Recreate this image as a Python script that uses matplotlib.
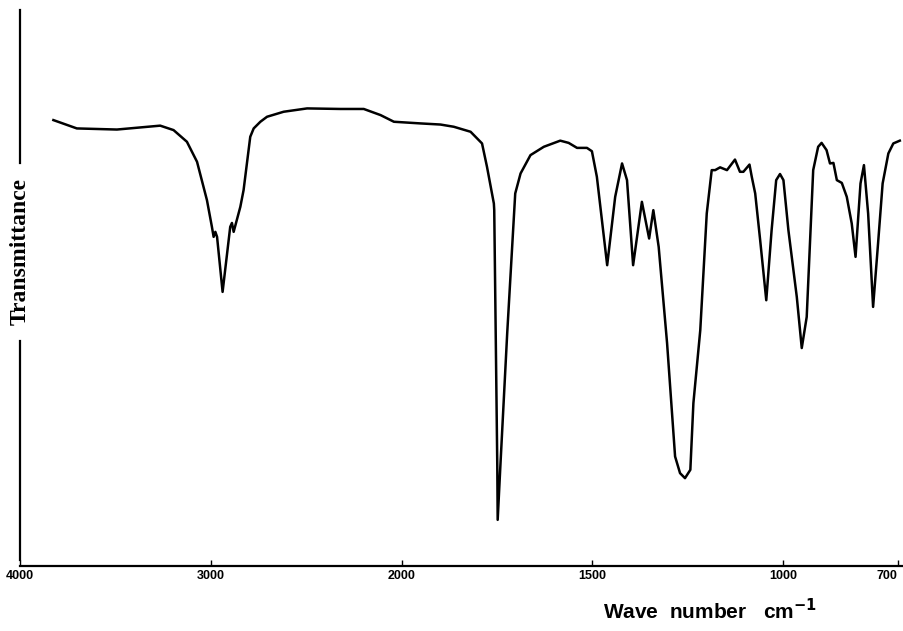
import numpy as np
import matplotlib
matplotlib.use("Agg")
import matplotlib.pyplot as plt

# wave numbers (cm-1) and transmittance (arbitrary %)
wavenumber = [3825, 3702, 3492, 3265, 3195, 3125, 3072, 3020, 2994, 2985,
              2976, 2967, 2938, 2898, 2889, 2880, 2845, 2828, 2793, 2775,
              2740, 2705, 2618, 2495, 2320, 2198, 2110, 2040,
              1950, 1898, 1863, 1819, 1789, 1776, 1758, 1757, 1749, 1748,
              1741, 1723, 1702, 1688, 1662, 1627, 1584, 1562, 1540, 1514,
              1501, 1488, 1461, 1440, 1422, 1409, 1393, 1370, 1351, 1340,
              1326, 1304, 1283, 1270, 1257, 1243, 1235, 1217, 1200, 1187,
              1178, 1165, 1147, 1126, 1113, 1104, 1088, 1082, 1073, 1060,
              1044, 1030, 1018, 1008, 999, 986, 964, 951, 938, 921,
              908, 899, 886, 877, 868, 859, 846, 833, 820, 810,
              797, 788, 777, 764, 751, 739, 724, 711, 694]
transmittance = [80.2, 78.7, 78.5, 79.2, 78.4, 76.3, 72.7, 65.8, 61.0, 59.2,
                 60.1, 59.2, 49.3, 61.0, 61.7, 60.1, 64.6, 67.6, 77.2, 78.7,
                 79.9, 80.8, 81.7, 82.3, 82.2, 82.2, 81.1, 79.9,
                 79.6, 79.4, 79.0, 78.1, 76.0, 71.8, 65.2, 64.0, 17.9, 8.3,
                 17.9, 41.9, 67.0, 70.6, 73.9, 75.4, 76.5, 76.1, 75.2, 75.2,
                 74.6, 70.0, 54.1, 66.4, 72.4, 69.4, 54.1, 65.5, 58.9, 64.0,
                 57.4, 40.1, 19.7, 16.7, 15.8, 17.3, 29.3, 42.4, 63.4, 71.2,
                 71.2, 71.7, 71.2, 73.1, 70.9, 70.9, 72.2, 70.0, 67.0, 58.6,
                 47.8, 60.4, 69.4, 70.5, 69.4, 60.4, 48.4, 39.2, 44.8, 71.2,
                 75.4, 76.1, 74.8, 72.4, 72.5, 69.4, 68.9, 66.4, 61.6, 55.6,
                 68.8, 72.1, 63.4, 46.6, 58.0, 68.8, 74.2, 76.0, 76.5]

ticks = [4000, 3000, 2000, 1500, 1000, 700]
tick_labels = ["4000", "3000", "2000", "1500", "1000", "700"]


# IR chart paper: scale doubles below 2000 cm-1
def fwd(w):
    w = np.asarray(w, dtype=float)
    return np.where(w >= 2000, w / 2 + 1000, w)


def inv(v):
    v = np.asarray(v, dtype=float)
    return np.where(v >= 2000, (v - 1000) * 2, v)


fig = plt.figure(figsize=(9.04, 6.31), dpi=100)
ax = fig.add_axes([20 / 904, 65 / 631, 884 / 904, 556 / 631])
ax.set_xscale('function', functions=(fwd, inv))
ax.plot(wavenumber, transmittance, color='black', lw=1.8, solid_joinstyle='round')
ax.set_xlim(4000, 683)
ax.set_ylim(0, 100)

for s in ['top', 'right', 'left']:
    ax.spines[s].set_visible(False)
ax.spines['bottom'].set_linewidth(1.6)
ax.set_yticks([])
ax.set_xticks(ticks)
ax.set_xticklabels(tick_labels)
ax.xaxis.set_minor_locator(plt.NullLocator())
ax.tick_params(axis='x', direction='in', length=4, width=1, pad=3,
               labelsize=9)
for lab in ax.get_xticklabels():
    lab.set_fontweight('bold')
    lab.set_family(['Liberation Sans', 'DejaVu Sans'])
ax.get_xticklabels()[-1].set_horizontalalignment('right')

# left axis line broken by the label
ax.plot([0, 0], [0.725, 1.0], color='black', lw=1.6, transform=ax.transAxes, clip_on=False)
ax.plot([0, 0], [0.01, 0.405], color='black', lw=1.6, transform=ax.transAxes, clip_on=False)
ax.text(0, 0.565, "Transmittance", rotation=90, ha='center', va='center',
        transform=ax.transAxes, fontsize=17, fontweight='bold',
        family=['Liberation Serif', 'DejaVu Serif'])

fig.text(710 / 904, 1 - 611 / 631, "Wave  number   cm$^{\\mathbf{-1}}$", ha='center', va='center',
         fontsize=15, fontweight='bold', family=['Liberation Sans', 'DejaVu Sans'])

fig.savefig("out.png", dpi=100)
